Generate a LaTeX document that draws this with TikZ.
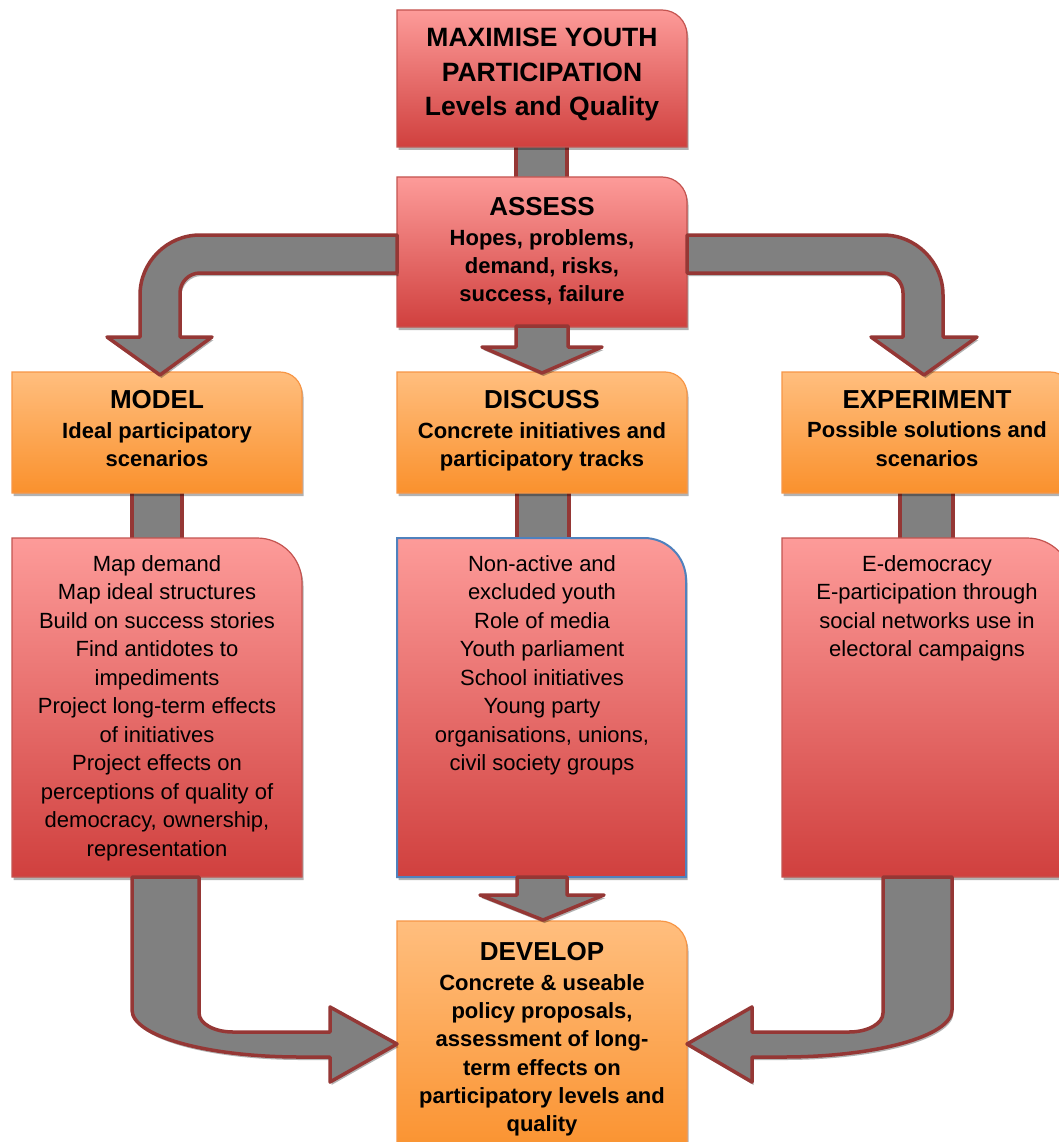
\documentclass[tikz,border=0pt]{standalone}
\usepackage{fontspec}
\setmainfont{Liberation Sans}
\usetikzlibrary{shadows}
\definecolor{redtop}{RGB}{253,155,153}
\definecolor{redbot}{RGB}{208,64,62}
\definecolor{redline}{RGB}{196,84,80}
\definecolor{orgtop}{RGB}{255,190,126}
\definecolor{orgbot}{RGB}{250,145,45}
\definecolor{orgline}{RGB}{247,150,70}
\definecolor{blueline}{RGB}{79,129,189}
\definecolor{arrowgray}{RGB}{128,128,128}
\definecolor{arrowline}{RGB}{149,55,53}
\newcommand\tbox[6]{%
  \path[#1] (#2,#5) -- (#2,#3) -- ({#4-#6},#3)
    .. controls ({#4-0.448*#6},#3) and (#4,{#3+0.448*#6}) .. (#4,{#3+#6})
    -- (#4,#5) -- cycle;}
\tikzset{
  shad/.style={drop shadow={shadow xshift=1.5pt,shadow yshift=-3pt,fill=black,opacity=0.3}},
  redbox/.style={shad,top color=redtop,bottom color=redbot,draw=redline,line width=1.2pt},
  bluebox/.style={redbox,draw=blueline,line width=2pt},
  orgbox/.style={shad,top color=orgtop,bottom color=orgbot,draw=orgline,line width=1.2pt},
  blockarrow/.style={shad,fill=arrowgray,draw=arrowline,line width=3.5pt,line join=round},
  plainlink/.style={fill=arrowgray,draw=arrowline,line width=3.5pt},
  bodytext/.style={align=center,inner sep=0pt,anchor=north,font=\fontsize{22}{28.5}\selectfont},
  headtext/.style={align=center,inner sep=0pt,anchor=north,font=\bfseries\fontsize{22}{28.3}\selectfont},
  titletext/.style={align=center,inner sep=0pt,anchor=north,font=\bfseries\fontsize{26.5}{34.5}\selectfont},
}
\newcommand\bighead{\fontsize{26}{28.3}\selectfont}
\begin{document}
\begin{tikzpicture}[x=1pt,y=-1pt]
\clip (0,0) rectangle (1059,1142);
\fill[white] (0,0) rectangle (1059,1142);

% plain links between boxes
\path[plainlink] (516,145) rectangle (567,179);
\path[plainlink] (132,491) rectangle (182,540);
\path[plainlink] (517,491) rectangle (569,540);
\path[plainlink] (900,491) rectangle (953,540);

% boxes
\tbox{redbox}{397}{10}{687}{147}{25}
\tbox{redbox}{397}{177}{687}{327}{25}
\tbox{orgbox}{12}{372}{302}{493}{22}
\tbox{orgbox}{397}{372}{687}{493}{22}
\tbox{orgbox}{782}{372}{1072}{493}{22}
\tbox{redbox}{12}{538}{302}{877}{45}
\tbox{bluebox}{397}{538}{686}{877}{42}
\tbox{redbox}{782}{538}{1072}{877}{45}
\tbox{orgbox}{397}{921}{687}{1160}{27}

% block arrows
\path[blockarrow] (397,235) -- (200,235) .. controls (167,235) and (140,262) .. (140,295)
  -- (140,337) -- (107,337) -- (160,375) -- (212,337) -- (180,337) -- (180,293)
  .. controls (180,282) and (189,273) .. (200,273) -- (397,273) -- cycle;
\path[blockarrow] (687,235) -- (883,235) .. controls (916,235) and (943,262) .. (943,295)
  -- (943,337) -- (977,337) -- (924,375) -- (871,337) -- (903,337) -- (903,293)
  .. controls (903,282) and (894,273) .. (883,273) -- (687,273) -- cycle;
\path[blockarrow] (516,326) -- (516,347) -- (482,347) -- (542,373) -- (602,347)
  -- (568,347) -- (568,326) -- cycle;
\path[blockarrow] (517,877) -- (517,895) -- (480,895) -- (543,920) -- (604,895)
  -- (567,895) -- (567,877) -- cycle;
\path[blockarrow] (132,877) -- (199,877) -- (199,1013) .. controls (199,1023.5) and (214,1032) .. (233,1032)
  -- (330,1032) -- (330,1007) -- (397,1044) -- (330,1082) -- (330,1057) -- (300,1057)
  .. controls (207,1057) and (132,1036) .. (132,1010) -- cycle;
\path[blockarrow] (952,877) -- (883,877) -- (883,1013) .. controls (883,1023.5) and (868,1032) .. (849,1032)
  -- (752,1032) -- (752,1007) -- (687,1044) -- (752,1082) -- (752,1057) -- (783,1057)
  .. controls (876,1057) and (952,1036) .. (952,1010) -- cycle;

% texts
\node[titletext] (goal) at (542,28) {MAXIMISE YOUTH\\PARTICIPATION\\Levels and Quality};
\node[headtext] (assess) at (542,197) {{\bighead ASSESS}\\[1.5pt]Hopes, problems,\\demand, risks,\\success, failure};
\node[headtext] (model) at (157,390) {{\bighead MODEL}\\[1.5pt]Ideal participatory\\scenarios};
\node[headtext] (discuss) at (542,390) {{\bighead DISCUSS}\\[1.5pt]Concrete initiatives and\\participatory tracks};
\node[headtext] (experiment) at (927,390) {{\bighead EXPERIMENT}\\[1.5pt]Possible solutions and\\scenarios};
\node[bodytext] (modellist) at (157,555) {Map demand\\Map ideal structures\\Build on success stories\\Find antidotes to\\impediments\\Project long-term effects\\of initiatives\\Project effects on\\perceptions of quality of\\democracy, ownership,\\representation};
\node[bodytext] (discusslist) at (542,555) {Non-active and\\excluded youth\\Role of media\\Youth parliament\\School initiatives\\Young party\\organisations, unions,\\civil society groups};
\node[bodytext] (experimentlist) at (927,555) {E-democracy\\E-participation through\\social networks use in\\electoral campaigns};
\node[headtext] (develop) at (542,942) {{\bighead DEVELOP}\\[1.5pt]Concrete \& useable\\policy proposals,\\assessment of long-\\term effects on\\participatory levels and\\quality};
\end{tikzpicture}
\end{document}
